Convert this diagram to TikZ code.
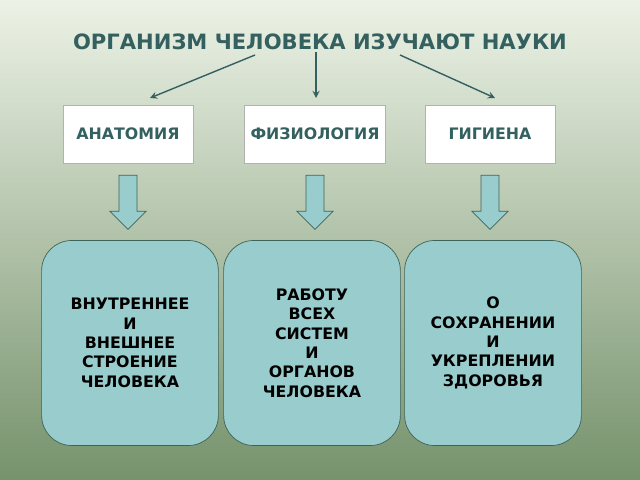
\documentclass[tikz,border=0pt]{standalone}
\usepackage{fontspec}
\setmainfont{DejaVu Sans}
\usetikzlibrary{calc}
\definecolor{titlecol}{RGB}{52,96,96}
\definecolor{bgtop}{RGB}{236,242,230}
\definecolor{bgbot}{RGB}{118,146,108}
\definecolor{boxfill}{RGB}{153,204,204}
\definecolor{boxline}{RGB}{60,100,90}
\begin{document}
\begin{tikzpicture}[x=0.2mm,y=-0.2mm,
    sci/.style={draw=gray!60, fill=white, minimum width=26mm, minimum height=11.6mm, font=\bfseries\small, text=titlecol},
    topic/.style={draw=boxline, fill=boxfill, rounded corners=6mm, minimum width=35mm, minimum height=41mm, font=\bfseries\small, align=center, text width=33mm},
    link/.style={thick, titlecol, -stealth}]
        \shade[top color=bgtop, bottom color=bgbot] (0,0) rectangle (640,480);
        \useasboundingbox (0,0) rectangle (640,480);
        \node[font=\bfseries\large, text=titlecol] (title) at (320,42) {ОРГАНИЗМ ЧЕЛОВЕКА ИЗУЧАЮТ НАУКИ};
        
        \node[sci] (anat) at (128,134) {АНАТОМИЯ};
        \node[sci] (phys) at (315,134) {ФИЗИОЛОГИЯ};
        \node[sci] (hyg) at (490,134) {ГИГИЕНА};
        
        \node[topic] (t1) at (130,343) {ВНУТРЕННЕЕ\\И\\ВНЕШНЕЕ\\СТРОЕНИЕ\\ЧЕЛОВЕКА};
        \node[topic] (t2) at (312,343) {РАБОТУ\\ВСЕХ\\СИСТЕМ\\И\\ОРГАНОВ\\ЧЕЛОВЕКА};
        \node[topic] (t3) at (493,343) {О\\СОХРАНЕНИИ\\И\\УКРЕПЛЕНИИ\\ЗДОРОВЬЯ};
        
        \coordinate (s1) at (255,55);
        \coordinate (s2) at (316,52);
        \coordinate (s3) at (400,55);
        \draw[link] (s1) -- (150,98);
        \draw[link] (s2) -- (316,98);
        \draw[link] (s3) -- (495,98);
        
        \foreach \a in {anat,phys,hyg}
            \draw[boxline, fill=boxfill]
                ($(\a.south)+(-9,12)$) -- ($(\a.south)+(9,12)$) -- ($(\a.south)+(9,48)$)
                -- ($(\a.south)+(18,48)$) -- ($(\a.south)+(0,66)$) -- ($(\a.south)+(-18,48)$)
                -- ($(\a.south)+(-9,48)$) -- cycle;
    \end{tikzpicture}
\end{document}
